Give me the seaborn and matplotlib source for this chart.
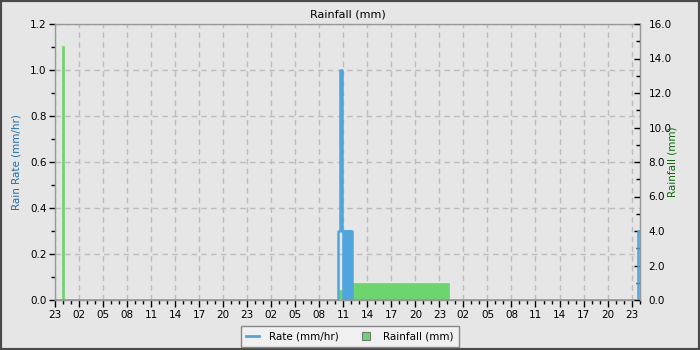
import matplotlib
matplotlib.use("Agg")
import matplotlib.pyplot as plt
import seaborn as sns
import pandas as pd
import numpy as np
from matplotlib.lines import Line2D
from matplotlib.patches import Rectangle
from matplotlib.ticker import MultipleLocator, FixedLocator, FormatStrFormatter

# ---- data (hours since 23:00 of day 1) ----
rate_hours = [0.0, 35.37, 35.62, 35.86, 35.95, 36.03, 36.12, 36.2, 36.28, 36.36, 36.44, 36.5, 36.8, 36.88, 37.04, 72.84, 73.5]
rate_values = [0.0, 0.3, 1.0, 0.3, 0.0, 0.3, 0.0, 0.3, 0.0, 0.3, 0.0, 0.3, 0.0, 0.3, 0.0, 0.3, 0.3]

rain_start = [0.9, 35.5, 36.75]
rain_end = [1.15, 35.8, 49.25]
rain_mm = [14.7, 0.6, 1.0]

tick_labels = ["23", "02", "05", "08", "11", "14", "17", "20"] * 3 + ["23"]

BG = "#e6e6e6"
BLUE = "#4ea6dc"
GREEN = "#6dd56d"

plt.rcParams["font.family"] = ["DejaVu Sans"]
plt.rcParams["font.size"] = 7.5

fig = plt.figure(figsize=(7, 3.5), dpi=100, facecolor=BG)
rect = [55 / 700, 1 - 300 / 350, 585 / 700, 276 / 350]
ax = fig.add_axes(rect)
ax.set_facecolor(BG)
ax.set_zorder(0)

ax2 = ax.twinx()
ax2.set_zorder(1)
ax2.patch.set_visible(False)
ax3 = ax.twinx()
ax3.set_zorder(2)
ax3.patch.set_visible(False)

# rainfall bars
rain_df = pd.DataFrame({"start": rain_start, "end": rain_end, "mm": rain_mm})
ax2.bar(rain_df["start"], rain_df["mm"], width=rain_df["end"] - rain_df["start"],
        align="edge", color=GREEN, edgecolor=GREEN, linewidth=0.5)

# rate line
rate_df = pd.DataFrame({"hour": rate_hours, "rate": rate_values})
sns.lineplot(data=rate_df, x="hour", y="rate", ax=ax3, drawstyle="steps-post",
             estimator=None, color=BLUE, linewidth=1.8)

xmax = 73.05
for a in (ax, ax2, ax3):
    a.set_xlim(0, xmax)
ax.set_ylim(0, 1.2)
ax3.set_ylim(0, 1.2)
ax2.set_ylim(0, 16)

# x axis
ax.xaxis.set_major_locator(FixedLocator(np.arange(0, 73, 3)))
ax.set_xticklabels(tick_labels)
ax.xaxis.set_minor_locator(MultipleLocator(1))
ax.tick_params(axis="x", which="major", length=5, width=1, direction="out", pad=2, labelsize=7.5)
ax.tick_params(axis="x", which="minor", length=3, width=1, direction="out")

# left axis
ax.yaxis.set_major_locator(MultipleLocator(0.2))
ax.yaxis.set_minor_locator(MultipleLocator(0.1))
ax.yaxis.set_major_formatter(FormatStrFormatter("%.1f"))
ax.tick_params(axis="y", which="major", length=4, width=1, direction="out", pad=2, labelsize=7.5)
ax.tick_params(axis="y", which="minor", length=3, width=1, direction="out")
ax.set_ylabel("Rain Rate (mm/hr)", color="#1f6fa8", fontsize=7.5, labelpad=6)

# right axis
ax2.yaxis.set_major_locator(MultipleLocator(2))
ax2.yaxis.set_minor_locator(MultipleLocator(1))
ax2.yaxis.set_major_formatter(FormatStrFormatter("%.1f"))
ax2.tick_params(axis="y", which="major", length=4, width=1, direction="in", pad=6, labelsize=7.5)
ax2.tick_params(axis="y", which="minor", length=3, width=1, direction="in")
ax2.set_ylabel("Rainfall (mm)", color="#0a6a0a", fontsize=7.5, labelpad=-3)

ax3.set_xlabel("")
ax3.set_ylabel("")
ax3.set_yticks([])
ax3.tick_params(axis="x", which="both", bottom=False, labelbottom=False)
for s in ax3.spines.values():
    s.set_visible(False)
for s in ax2.spines.values():
    s.set_visible(False)

for s in ax.spines.values():
    s.set_color("#999999")
    s.set_linewidth(1)
ax2.spines["right"].set_visible(True)
ax2.spines["right"].set_color("#999999")

ax.grid(True, which="major", color="#bcbcbc", linestyle=(0, (4, 3)), linewidth=1)
ax.set_axisbelow(True)

ax.set_title("Rainfall (mm)", fontsize=8, pad=5)

handles = [Line2D([0], [0], color=BLUE, linewidth=2),
           Line2D([0], [0], marker="s", linestyle="none", markersize=6,
                  markerfacecolor=GREEN, markeredgecolor="#777777", markeredgewidth=0.8)]
fig.legend(handles, ["Rate (mm/hr)", "Rainfall (mm)"], loc="lower center",
           bbox_to_anchor=(0.5, -0.006), ncol=2, fontsize=7.5, frameon=True,
           fancybox=False, edgecolor="#888888", facecolor="#f0f0f0",
           framealpha=1, handlelength=1.2, handletextpad=1.05, columnspacing=2.0,
           borderpad=0.5)

fig.patches.append(Rectangle((0, 0), 1, 1, transform=fig.transFigure, fill=False,
                             edgecolor="#4a4a4a", linewidth=3))

fig.savefig("out.png", dpi=100, facecolor=BG)
